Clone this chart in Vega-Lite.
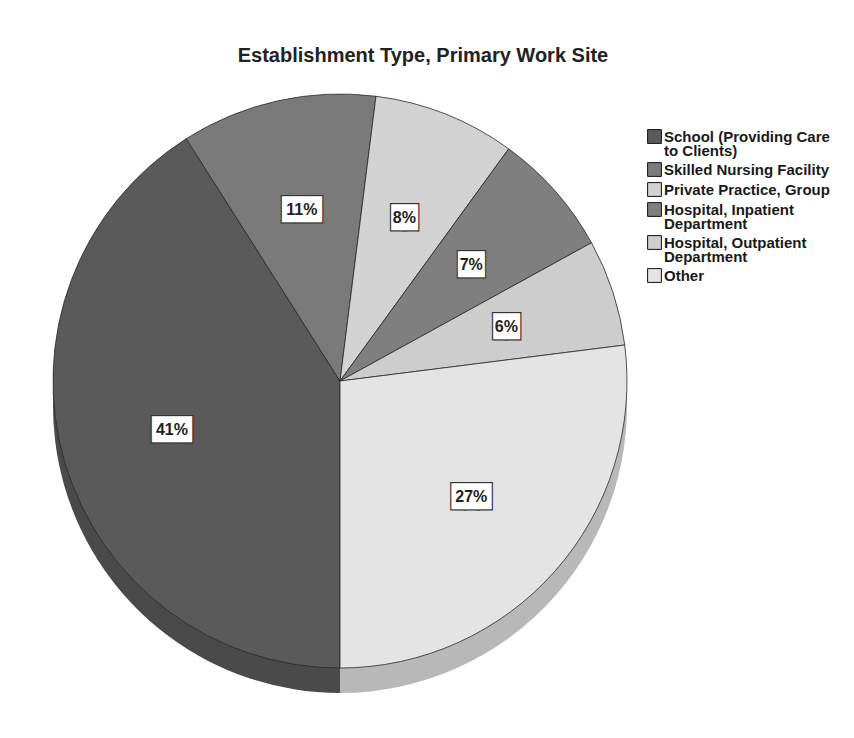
{
  "$schema": "https://vega.github.io/schema/vega-lite/v6.json",
  "width": 680,
  "height": 738,
  "autosize": {"type": "none"},
  "padding": {"left": 0, "top": 12, "right": 174, "bottom": 0},
  "background": "white",
  "title": {
    "text": "Establishment Type, Primary Work Site",
    "font": "Liberation Sans",
    "fontSize": 20,
    "fontWeight": "bold",
    "color": "#222222",
    "anchor": "middle",
    "frame": "group",
    "baseline": "alphabetic",
    "offset": 0,
    "dx": 83,
    "dy": 70
  },
  "data": {
    "values": [
      {"type": "School (Providing Care to Clients)", "pct": 41, "rank": 1, "label": "41%"},
      {"type": "Skilled Nursing Facility", "pct": 11, "rank": 2, "label": "11%"},
      {"type": "Private Practice, Group", "pct": 8, "rank": 3, "label": "8%"},
      {"type": "Hospital, Inpatient Department", "pct": 7, "rank": 4, "label": "7%"},
      {"type": "Hospital, Outpatient Department", "pct": 6, "rank": 5, "label": "6%"},
      {"type": "Other", "pct": 27, "rank": 6, "label": "27%"}
    ]
  },
  "encoding": {
    "theta": {"field": "pct", "type": "quantitative", "stack": true, "scale": {"range": [3.14159265, 9.42477796]}},
    "order": {"field": "rank", "type": "quantitative"}
  },
  "layer": [
    {
      "mark": {"type": "arc", "outerRadius": 287, "yOffset": 25, "stroke": null},
      "encoding": {
        "color": {
          "field": "type", "type": "nominal", "legend": null,
          "scale": {
            "domain": ["School (Providing Care to Clients)", "Skilled Nursing Facility", "Private Practice, Group", "Hospital, Inpatient Department", "Hospital, Outpatient Department", "Other"],
            "range": ["#4a4a4a", "#6a6a6a", "#b5b5b5", "#6e6e6e", "#b0b0b0", "#b8b8b8"]
          }
        }
      }
    },
    {
      "mark": {"type": "arc", "outerRadius": 287, "stroke": "#2a2a2a", "strokeWidth": 0.8},
      "encoding": {
        "color": {
          "field": "type", "type": "nominal",
          "scale": {
            "domain": ["School (Providing Care to Clients)", "Skilled Nursing Facility", "Private Practice, Group", "Hospital, Inpatient Department", "Hospital, Outpatient Department", "Other"],
            "range": ["#5a5a5a", "#7a7a7a", "#d2d2d2", "#7f7f7f", "#cdcdcd", "#e4e4e4"]
          },
          "legend": {
            "title": null,
            "orient": "none",
            "legendX": 647,
            "legendY": 117,
            "symbolType": "square",
            "symbolSize": 190,
            "symbolStrokeColor": "#111111",
            "symbolStrokeWidth": 1,
            "labelFont": "Liberation Sans",
            "labelFontSize": 15,
            "labelFontWeight": "bold",
            "labelColor": "#1a1a1a",
            "labelLimit": 0,
            "labelOffset": 2,
            "rowPadding": 1,
            "encode": {"labels": {"update": {"lineHeight": {"value": 14}}}},
            "labelExpr": "datum.label == 'School (Providing Care to Clients)' ? ['School (Providing Care', 'to Clients)'] : datum.label == 'Hospital, Inpatient Department' ? ['Hospital, Inpatient', 'Department'] : datum.label == 'Hospital, Outpatient Department' ? ['Hospital, Outpatient', 'Department'] : datum.label"
          }
        }
      }
    },
    {
      "mark": {"type": "text", "radius": 175, "font": "DejaVu Sans Mono", "fontSize": 22, "baseline": "middle", "color": "#333333", "stroke": "#333333", "strokeWidth": 2.5},
      "encoding": {"text": {"condition": {"test": "datum.pct >= 10", "value": "███"}, "value": "██"}}
    },
    {
      "mark": {"type": "text", "radius": 175, "font": "DejaVu Sans Mono", "fontSize": 22, "baseline": "middle", "color": "white"},
      "encoding": {"text": {"condition": {"test": "datum.pct >= 10", "value": "███"}, "value": "██"}}
    },
    {
      "mark": {"type": "text", "radius": 175, "font": "Liberation Sans", "fontSize": 16, "fontWeight": "bold", "baseline": "middle", "color": "#222222"},
      "encoding": {"text": {"field": "label"}}
    }
  ],
  "resolve": {"scale": {"color": "independent"}},
  "config": {"view": {"stroke": null}}
}
